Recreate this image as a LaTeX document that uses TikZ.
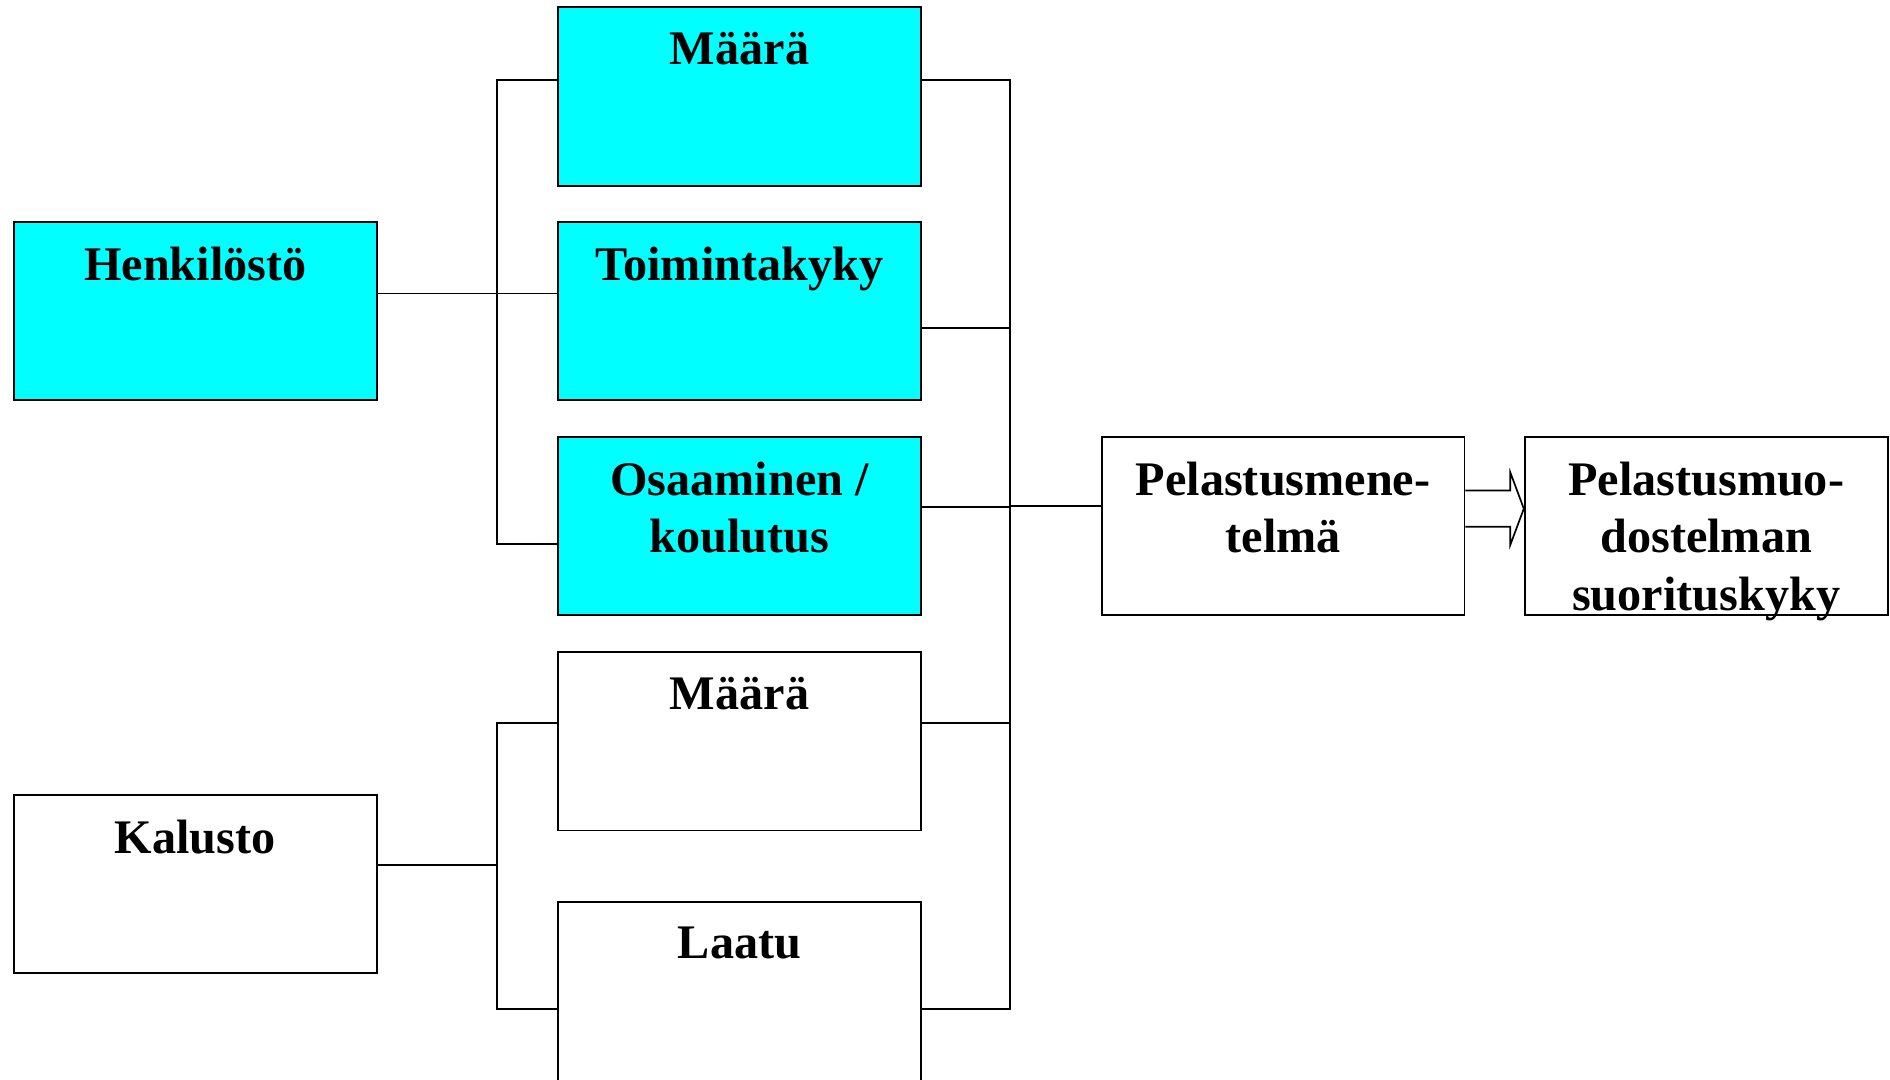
\documentclass[tikz,border=0pt]{standalone}
\usepackage{fontspec}
\setmainfont{Liberation Serif}
\definecolor{cy}{RGB}{0,255,255}
\tikzset{
  box/.style={draw=black, line width=1.6pt, rectangle, inner sep=0pt, minimum width=301pt, minimum height=148pt},
  cbox/.style={box, fill=cy},
  wbox/.style={box, fill=white},
  lbl/.style={anchor=north, inner sep=0pt, yshift=-21.5pt, align=center, font=\fontsize{40}{47.5}\selectfont\bfseries},
  conn/.style={draw=black, line width=1.6pt},
  barrow/.style={draw=black, line width=1.4pt, line join=miter}
}
\begin{document}
\begin{tikzpicture}[x=1pt,y=-1pt]
\useasboundingbox (0,0) rectangle (1568,896);
% boxes
\node[cbox, label={[lbl]north:Määrä}] (m1) at (613.5,80) {};
\node[cbox, label={[lbl]north:Toimintakyky}] (toi) at (613.5,258) {};
\node[cbox, label={[lbl]north:Osaaminen /\\koulutus}] (osa) at (613.5,436.5) {};
\node[wbox, label={[lbl]north:Määrä}] (m2) at (613.5,615) {};
\node[wbox, minimum height=154pt, label={[lbl]north:Laatu}] (laa) at (613.5,825) {};
\node[cbox, label={[lbl]north:Henkilöstö}] (hen) at (162,258) {};
\node[wbox, label={[lbl]north:Kalusto}] (kal) at (162,733.5) {};
\node[wbox, label={[lbl]north:Pelastusmene-\\telmä}] (pel) at (1064.5,436.5) {};
\node[wbox, label={[lbl]north:Pelastusmuo-\\dostelman\\suorituskyky}] (suo) at (1415.5,436.5) {};
% junction coordinates
\coordinate (bLtA) at (412,66);
\coordinate (bLbA) at (412,451);
\coordinate (jA) at (412,243.5);
\coordinate (bLtB) at (412,600);
\coordinate (bLbB) at (412,837);
\coordinate (jB) at (412,718);
\coordinate (bRt) at (838,66);
\coordinate (bRb) at (838,837);
\coordinate (rT) at (838,272);
\coordinate (rO) at (838,421);
\coordinate (rM) at (838,600);
\coordinate (rP) at (838,420);
% left brackets
\draw[conn] (m1.west |- bLtA) -- (bLtA) -- (bLbA) -- (osa.west |- bLbA);
\draw[conn] (hen.east |- jA) -- (jA) -- (toi.west |- jA);
\draw[conn] (m2.west |- bLtB) -- (bLtB) -- (bLbB) -- (laa.west |- bLbB);
\draw[conn] (kal.east |- jB) -- (jB);
% right bracket
\draw[conn] (m1.east |- bRt) -- (bRt) -- (bRb) -- (laa.east |- bRb);
\draw[conn] (toi.east |- rT) -- (rT);
\draw[conn] (osa.east |- rO) -- (rO);
\draw[conn] (m2.east |- rM) -- (rM);
\draw[conn] (rP) -- (pel.west |- rP);
% block arrow
\coordinate (hx) at (1253,422);
\draw[barrow] (pel.east |- 0,407) -- (hx |- 0,407) -- (hx |- 0,392) -- (suo.west |- hx) -- (hx |- 0,452) -- (hx |- 0,437) -- (pel.east |- 0,437);
\end{tikzpicture}
\end{document}
